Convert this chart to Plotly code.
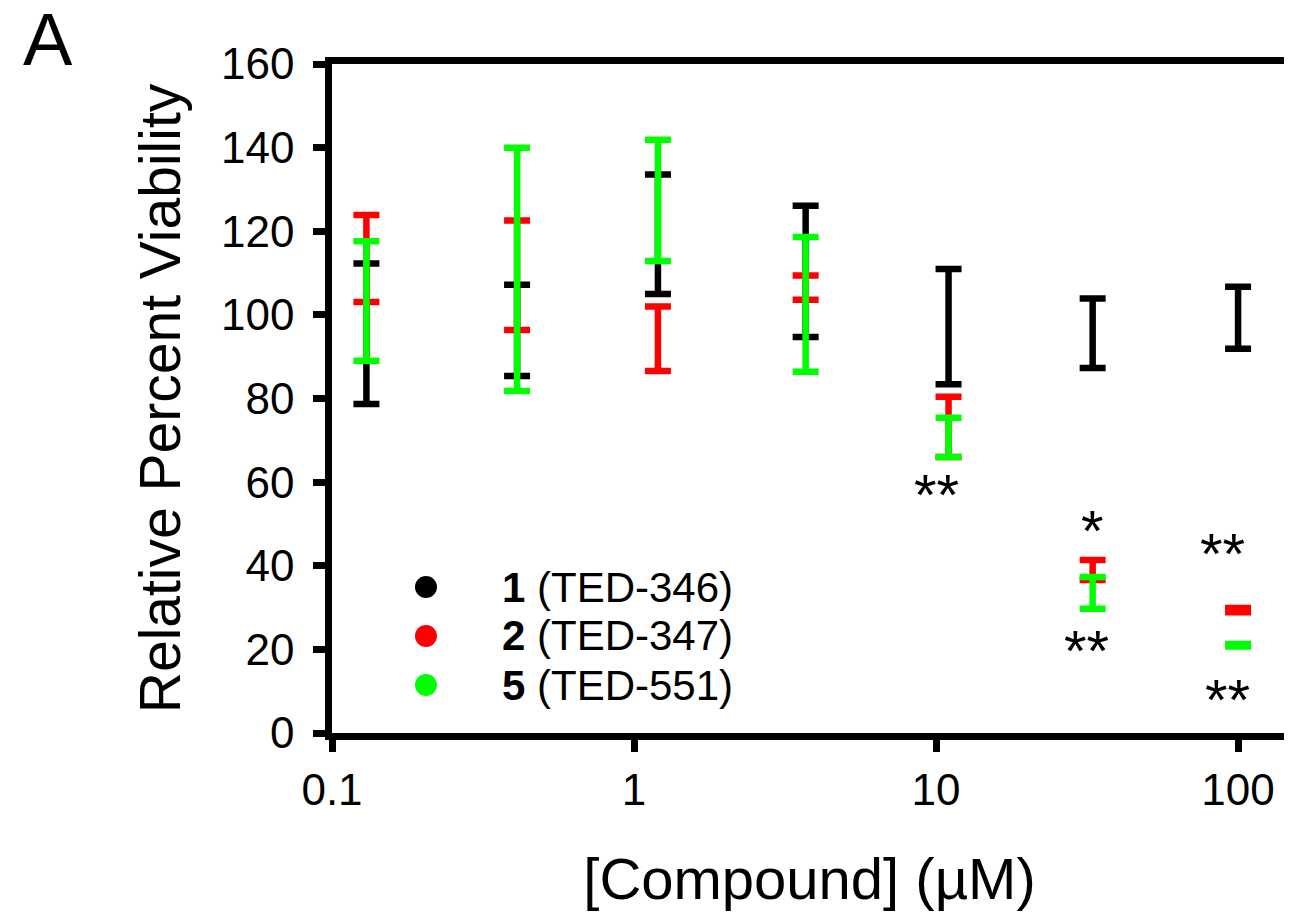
import numpy as np
import plotly.graph_objects as go

# concentrations (uM)
conc = [0.13, 0.41, 1.2, 3.7, 11, 33, 100]

# mean relative viability (%) and error (+/-) per compound
ted346_mean = [95.5, 96.3, 119.3, 110.4, 97.2, 95.6, 99.3]
ted346_err = [16.8, 10.9, 14.3, 15.7, 13.8, 8.3, 7.4]
ted347_mean = [113.5, 109.5, 94.3, 106.5, 73.2, 39.0, 29.4]
ted347_err = [10.4, 13.1, 7.7, 2.9, 7.2, 2.4, 0.5]
ted551_mean = [103.3, 110.9, 127.4, 102.5, 70.7, 33.5, 21.0]
ted551_err = [14.3, 29.1, 14.5, 16.1, 4.7, 3.8, 0.3]

series_names = ["<b>1</b> (TED-346)", "<b>2</b> (TED-347)", "<b>5</b> (TED-551)"]
series_colors = ["#000000", "#FF0000", "#00FF00"]

# significance marks
star_x = [10, 33, 31.5, 89, 92]
star_y = [58.6, 50.2, 21.5, 44.5, 9.6]
star_text = ["**", "*", "**", "**", "**"]

x_ticks = [0.1, 1, 10, 100]
y_ticks = [0, 20, 40, 60, 80, 100, 120, 140, 160]

FONT = "Liberation Sans, Arial, sans-serif"

fig = go.Figure()

all_means = [ted346_mean, ted347_mean, ted551_mean]
all_errs = [ted346_err, ted347_err, ted551_err]
for name, color, m, e in zip(series_names, series_colors, all_means, all_errs):
    fig.add_trace(go.Scatter(
        x=conc, y=m, mode="markers", showlegend=False, name=name,
        marker=dict(size=1, color=color, opacity=0),
        error_y=dict(type="data", array=e, visible=True, color=color,
                     thickness=6.5, width=13),
        hoverinfo="skip",
    ))

# legend drawn by hand (tighter row spacing than plotly's legend allows)
leg_dot_x = 0.0984
leg_text_x = 0.1759
leg_rows = [0.2182, 0.145, 0.0717]
for name, color, ly in zip(series_names, series_colors, leg_rows):
    fig.add_shape(type="circle", xref="paper", yref="paper",
                  xsizemode="pixel", ysizemode="pixel",
                  xanchor=leg_dot_x, yanchor=ly,
                  x0=-11, x1=11, y0=-11, y1=11,
                  fillcolor=color, line=dict(width=0))
    fig.add_annotation(x=leg_text_x, y=ly, xref="paper", yref="paper",
                       text=name, showarrow=False, xanchor="left", yanchor="middle",
                       font=dict(size=42, color="black", family=FONT))

for sx, sy, st in zip(star_x, star_y, star_text):
    fig.add_annotation(x=np.log10(sx), y=sy, text=st, showarrow=False,
                       xref="x", yref="y", xanchor="center", yanchor="middle", yshift=-7,
                       font=dict(size=58, color="black", family=FONT))

fig.add_annotation(x=-0.297, y=1.036, xref="paper", yref="paper", text="A",
                   showarrow=False, xanchor="center", yanchor="middle",
                   font=dict(size=74, color="black", family=FONT))

axis_common = dict(
    showline=True, linecolor="black", linewidth=6.5, mirror=True,
    ticks="outside", ticklen=12, tickwidth=6.5, tickcolor="black",
    showgrid=False, zeroline=False,
    tickfont=dict(size=44, color="black", family=FONT),
)

fig.update_xaxes(
    type="log", range=[-1, 2.162], tickvals=x_ticks,
    ticktext=["0.1", "1", "10", "100"],
    title=dict(text="[Compound] (µM)", font=dict(size=58, color="black", family=FONT),
               standoff=48),
    **axis_common,
)
fig.update_yaxes(
    range=[0, 160], tickvals=y_ticks, ticklabelstandoff=10,
    title=dict(text="Relative Percent Viability", font=dict(size=57, color="black", family=FONT),
               standoff=25),
    **axis_common,
)

# page body has an 8px margin, so margins are shifted to compensate
fig.update_layout(
    width=1292, height=915,
    margin=dict(l=324, r=13, t=56, b=190, autoexpand=False),
    plot_bgcolor="white", paper_bgcolor="white",
    font=dict(family=FONT, color="black"),
    showlegend=False,
)

fig.write_html("out.html")
